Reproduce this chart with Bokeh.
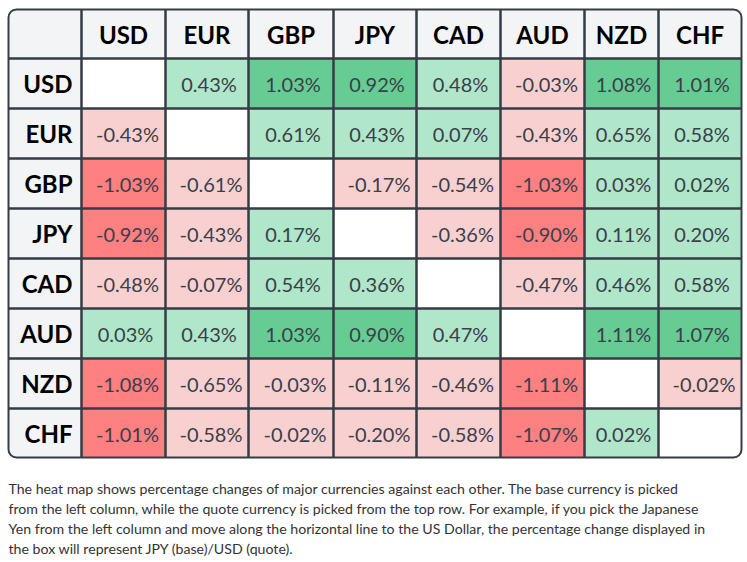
from bokeh.plotting import figure
from bokeh.models import Range1d
from bokeh.core.properties import value
from bokeh.embed import file_html
from bokeh.resources import INLINE

# ---------------- data ----------------
currencies = ["USD", "EUR", "GBP", "JPY", "CAD", "AUD", "NZD", "CHF"]
row_usd = [None, 0.43, 1.03, 0.92, 0.48, -0.03, 1.08, 1.01]
row_eur = [-0.43, None, 0.61, 0.43, 0.07, -0.43, 0.65, 0.58]
row_gbp = [-1.03, -0.61, None, -0.17, -0.54, -1.03, 0.03, 0.02]
row_jpy = [-0.92, -0.43, 0.17, None, -0.36, -0.90, 0.11, 0.20]
row_cad = [-0.48, -0.07, 0.54, 0.36, None, -0.47, 0.46, 0.58]
row_aud = [0.03, 0.43, 1.03, 0.90, 0.47, None, 1.11, 1.07]
row_nzd = [-1.08, -0.65, -0.03, -0.11, -0.46, -1.11, None, -0.02]
row_chf = [-1.01, -0.58, -0.02, -0.20, -0.58, -1.07, 0.02, None]
rows = [row_usd, row_eur, row_gbp, row_jpy, row_cad, row_aud, row_nzd, row_chf]

caption_lines = [
    "The heat map shows percentage changes of major currencies against each other. The base currency is picked",
    "from the left column, while the quote currency is picked from the top row. For example, if you pick the Japanese",
    "Yen from the left column and move along the horizontal line to the US Dollar, the percentage change displayed in",
    "the box will represent JPY (base)/USD (quote).",
]

# ---------------- layout / style ----------------
W, H = 747, 562
X0, Y0 = 8, 9
COL_W = [73, 84, 83, 85, 83, 84, 84, 74, 83]
ROW_H = [49, 50, 50, 50, 50, 50, 50, 50, 49]
HEADER_BG = "#f3f4f6"
BORDER = "#363c46"
DARK_GREEN = "#66cc94"
LIGHT_GREEN = "#b0e6c9"
DARK_RED = "#ff8080"
LIGHT_RED = "#f9d0d0"
FONT = value("Lato")

col_edges = [X0]
for w in COL_W:
    col_edges.append(col_edges[-1] + w)
row_edges = [Y0]
for h in ROW_H:
    row_edges.append(row_edges[-1] + h)


def cell_color(v):
    if v is None:
        return "#ffffff"
    if v >= 0.85:
        return DARK_GREEN
    if v >= 0:
        return LIGHT_GREEN
    if v <= -0.85:
        return DARK_RED
    return LIGHT_RED


p = figure(width=W, height=H, x_range=Range1d(0, W), y_range=Range1d(H, 0),
           output_backend="svg", toolbar_location=None, min_border=0,
           x_axis_location=None, y_axis_location=None)
p.grid.visible = False
p.outline_line_color = None
p.background_fill_color = "white"
p.border_fill_color = "white"

# cell fills
L, R, T, B, C = [], [], [], [], []
for i in range(9):
    for j in range(9):
        L.append(col_edges[j]); R.append(col_edges[j + 1])
        T.append(row_edges[i]); B.append(row_edges[i + 1])
        if i == 0 or j == 0:
            C.append(HEADER_BG)
        else:
            C.append(cell_color(rows[i - 1][j - 1]))
p.quad(left=L, right=R, top=T, bottom=B, fill_color=C, line_color=None)

# inner grid lines
xs0, ys0, xs1, ys1 = [], [], [], []
for x in col_edges[1:-1]:
    xs0.append(x); xs1.append(x); ys0.append(row_edges[0]); ys1.append(row_edges[-1])
for y in row_edges[1:-1]:
    xs0.append(col_edges[0]); xs1.append(col_edges[-1]); ys0.append(y); ys1.append(y)
p.segment(x0=xs0, y0=ys0, x1=xs1, y1=ys1, line_color=BORDER, line_width=2.5)

# outer frame
p.quad(left=[col_edges[0]], right=[col_edges[-1]], top=[row_edges[0]], bottom=[row_edges[-1]],
       fill_color=None, line_color=BORDER, line_width=2, border_radius=8)

# headers
hx = [(col_edges[j] + col_edges[j + 1]) / 2 for j in range(1, 9)]
hy = [row_edges[0] + 25] * 8
p.text(x=hx, y=hy, text=currencies, text_font=FONT, text_font_style="bold",
       text_font_size="24px", text_align="center", text_baseline="alphabetic",
       text_color="#000000")
rx = [col_edges[1] - 9] * 8
ry = [row_edges[i] + 25 for i in range(1, 9)]
p.text(x=rx, y=ry, text=currencies, text_font=FONT, text_font_style="bold",
       text_font_size="24px", text_align="right", text_baseline="alphabetic",
       text_color="#000000")

# values
vx, vy, vt = [], [], []
for i in range(8):
    for j in range(8):
        v = rows[i][j]
        if v is None:
            continue
        cx = (col_edges[j + 1] + col_edges[j + 2]) / 2 + (4 if v < 0 else 2)
        vx.append(cx)
        vy.append(row_edges[i + 1] + 25.5)
        vt.append(f"{v:.2f}%")
p.text(x=vx, y=vy, text=vt, text_font=FONT, text_font_size="20px",
       text_align="center", text_baseline="alphabetic", text_color="#3a3f4a")

# caption
cy = [488 + 20 * k for k in range(len(caption_lines))]
p.text(x=[X0] * len(caption_lines), y=cy, text=caption_lines, text_font=FONT,
       text_font_size="14.15px", text_align="left", text_baseline="alphabetic",
       text_color="#333333")

open("out.html", "w").write(file_html(p, INLINE))
